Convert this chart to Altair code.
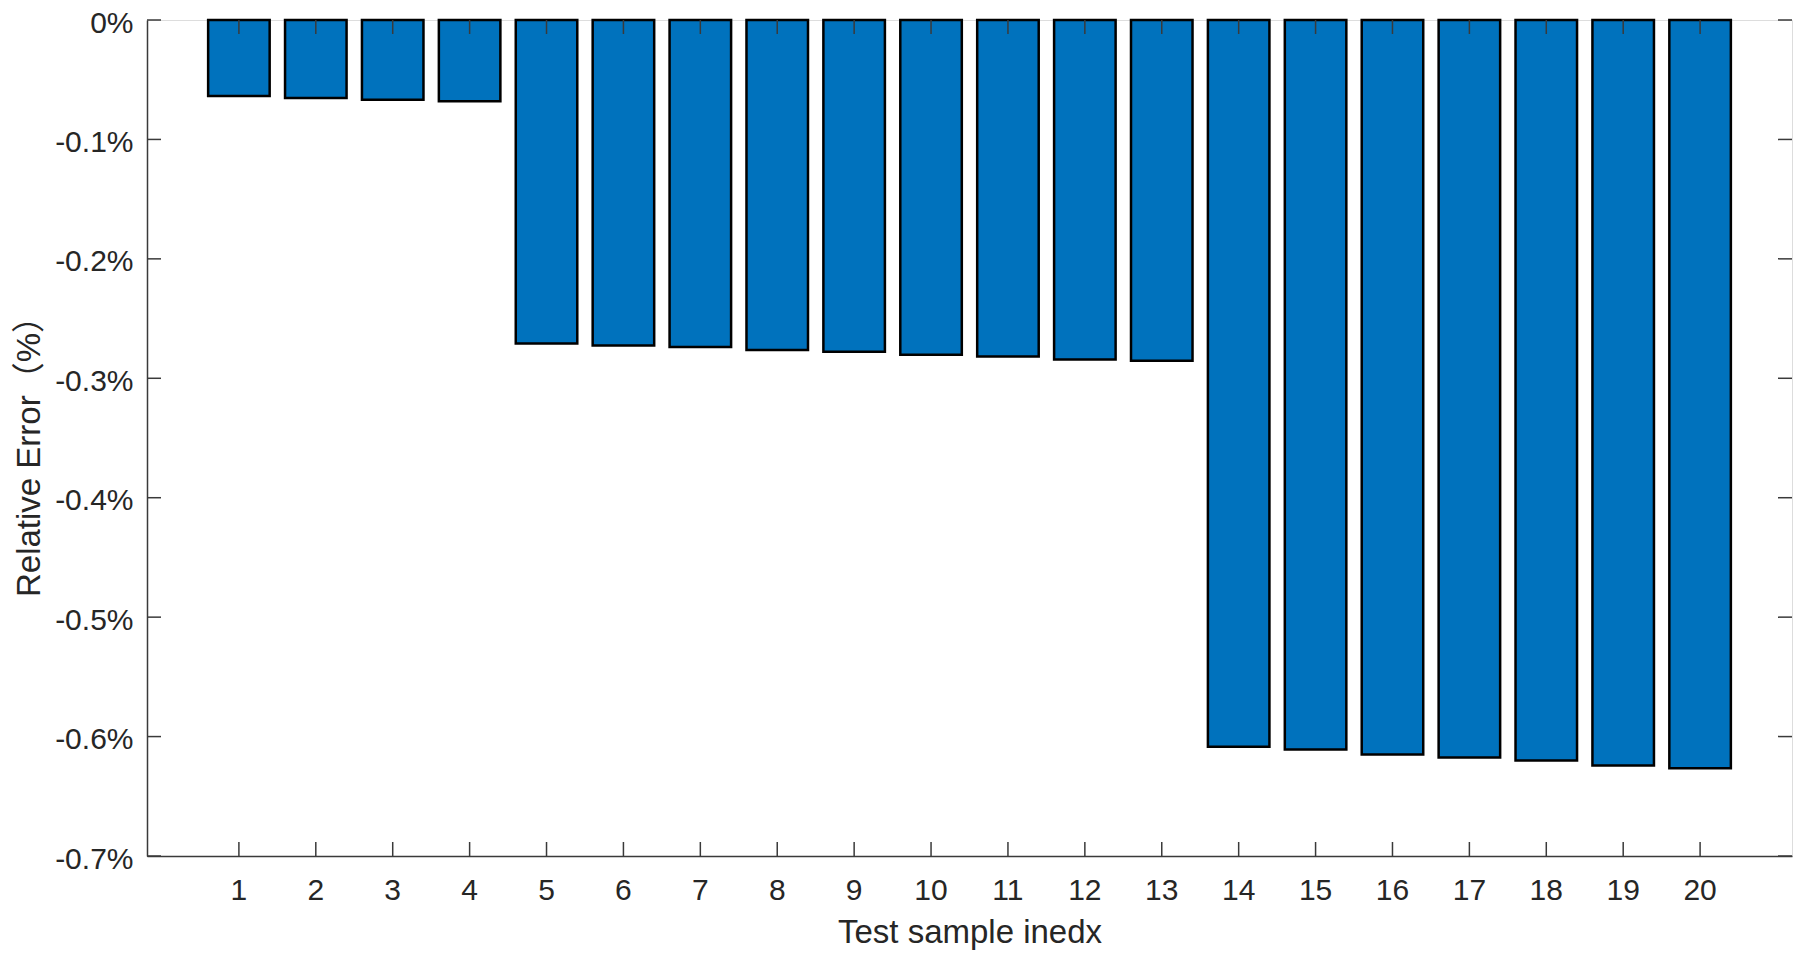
import altair as alt
import pandas as pd

# Data
sample_index = list(range(1, 21))
relative_error = [-0.0636, -0.0653, -0.0668, -0.0680,
                  -0.2708, -0.2725, -0.2739, -0.2764, -0.2778, -0.2803, -0.2817, -0.2842, -0.2853,
                  -0.6086, -0.6108, -0.6150, -0.6175, -0.6200, -0.6242, -0.6265]
y_ticks = [0, -0.1, -0.2, -0.3, -0.4, -0.5, -0.6, -0.7]

W, H = 1645, 836
TICK = 14
FONT = "Liberation Sans, Arial, Noto Sans CJK SC"
AX = "#3a3a3a"
TXT = "#262626"

bars_df = pd.DataFrame({"idx": sample_index, "err": relative_error})
ytick_df = pd.DataFrame({"v": y_ticks})

x_scale = alt.Scale(paddingInner=0.2, paddingOuter=0.795)
y_scale = alt.Scale(domain=[-0.7, 0], nice=False)

x_axis = alt.Axis(
    title="Test sample inedx", labelAngle=0, ticks=False, grid=False,
    domainColor=AX, domainWidth=1.5, labelFontSize=30, labelFont=FONT, labelColor=TXT,
    labelPadding=19, titleFontSize=33, titleFont=FONT, titleColor=TXT, titleFontWeight="normal",
    titleBaseline="alphabetic", titleY=86,
)
y_axis = alt.Axis(
    title="Relative Error（%）", values=y_ticks, ticks=False, grid=False,
    labelExpr="datum.value == 0 ? '0%' : ((datum.value < 0 ? '-' : '') + format(abs(datum.value), '.1f') + '%')",
    domainColor=AX, domainWidth=1.5, labelFontSize=30, labelFont=FONT, labelColor=TXT,
    labelPadding=14, labelOffset=3, titleFontSize=33, titleFont=FONT, titleColor=TXT, titleFontWeight="normal",
    titleAngle=-90, titleBaseline="middle", titleAlign="center", titleX=-118, titleY=428,
)

bars = alt.Chart(bars_df).mark_bar(
    color="#0072BD", stroke="black", strokeWidth=2.5
).encode(
    x=alt.X("idx:O", scale=x_scale, axis=x_axis),
    y=alt.Y("err:Q", scale=y_scale, axis=y_axis),
)

# inward tick marks (MATLAB style) on all four sides
xt_bottom = alt.Chart(bars_df).mark_rule(color=AX, strokeWidth=1.5).encode(
    x=alt.X("idx:O", scale=x_scale), y=alt.value(H - TICK), y2=alt.value(H)
)
xt_top = alt.Chart(bars_df).mark_rule(color=AX, strokeWidth=1.5).encode(
    x=alt.X("idx:O", scale=x_scale), y=alt.value(0), y2=alt.value(TICK)
)
yt_left = alt.Chart(ytick_df).mark_rule(color=AX, strokeWidth=1.5).encode(
    y=alt.Y("v:Q", scale=y_scale), x=alt.value(0), x2=alt.value(TICK)
)
yt_right = alt.Chart(ytick_df).mark_rule(color=AX, strokeWidth=1.5).encode(
    y=alt.Y("v:Q", scale=y_scale), x=alt.value(W - TICK), x2=alt.value(W)
)

chart = alt.layer(bars, xt_bottom, xt_top, yt_left, yt_right).properties(
    width=W, height=H,
    autosize=alt.AutoSizeParams(type="none"),
    padding={"left": 139, "top": 12, "right": 5, "bottom": 97},
).configure_view(
    stroke=AX, strokeWidth=1.5
).configure(background="white")

chart.save("out.html", embed_options={"renderer": "svg", "actions": False})
